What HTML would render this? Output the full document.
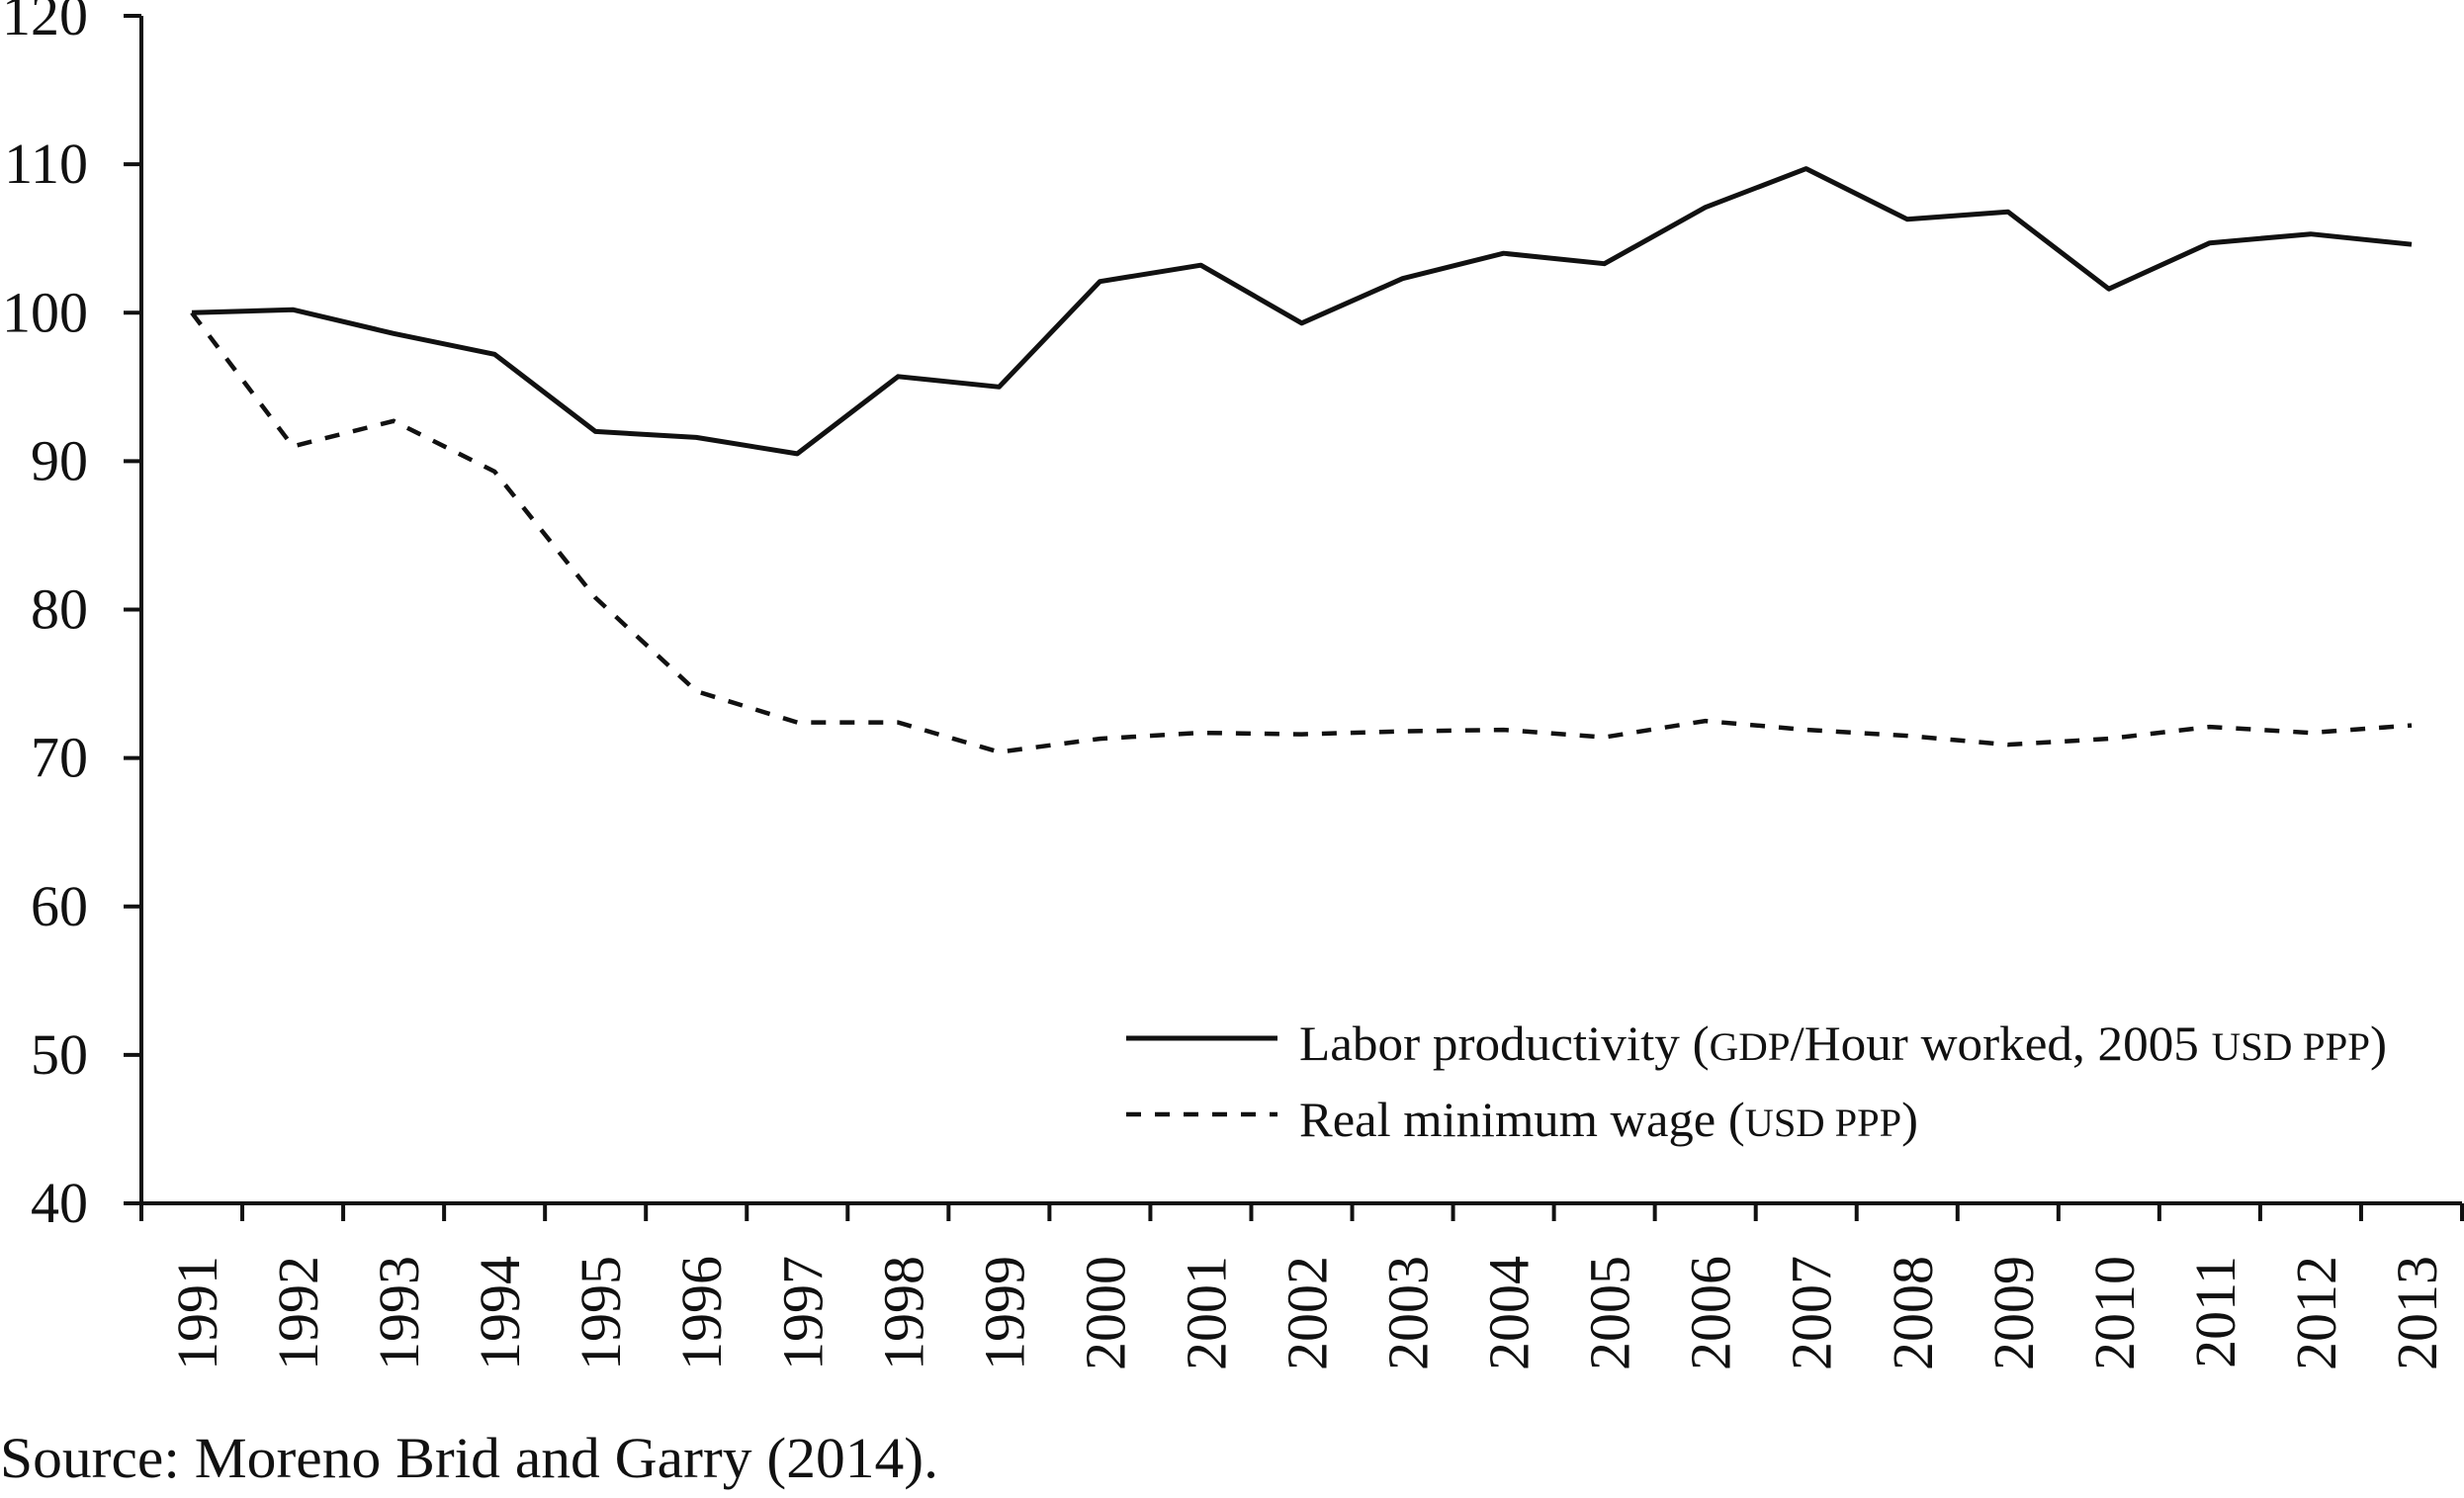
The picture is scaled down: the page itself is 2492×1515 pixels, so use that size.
<!DOCTYPE html>
<html><head><meta charset="utf-8"><style>
html,body{margin:0;padding:0;background:#fff;}
svg{display:block;font-family:"Liberation Serif",serif;}
</style></head><body>
<svg id="chart" width="2492" height="1515" viewBox="0 0 2492 1515" xmlns="http://www.w3.org/2000/svg">
<g id="axes"></g>
<g id="series"></g>
<g id="legend">
  <line x1="1139" y1="1050" x2="1292" y2="1050" stroke="#111" stroke-width="5"/>
  <text x="1314" y="1072" font-size="50" fill="#111" textLength="1100" lengthAdjust="spacingAndGlyphs">Labor productivity (<tspan font-size="40">GDP</tspan>/Hour worked, 2005 <tspan font-size="40">USD PPP</tspan>)</text>
  <line x1="1139" y1="1127" x2="1292" y2="1127" stroke="#111" stroke-width="4.5" stroke-dasharray="15,14"/>
  <text x="1314" y="1149" font-size="50" fill="#111" textLength="626" lengthAdjust="spacingAndGlyphs">Real minimum wage (<tspan font-size="40">USD PPP</tspan>)</text>
</g>
<text x="0" y="1494" font-size="58" fill="#111" textLength="949" lengthAdjust="spacingAndGlyphs">Source: Moreno Brid and Garry (2014).</text>
</svg>
<script>
const years = ["1991","1992","1993","1994","1995","1996","1997","1998","1999","2000","2001","2002","2003","2004","2005","2006","2007","2008","2009","2010","2011","2012","2013"];
const laborProductivity = [100,100.2,98.6,97.2,92,91.6,90.5,95.7,95,102.1,103.2,99.3,102.3,104,103.3,107.1,109.7,106.3,106.8,101.6,104.7,105.3,104.6];
const realMinimumWage = [100,91,92.7,89.3,80.8,74.5,72.4,72.4,70.4,71.3,71.7,71.6,71.8,71.9,71.4,72.5,71.9,71.5,70.9,71.3,72.1,71.7,72.2];
const yTicks = [40,50,60,70,80,90,100,110,120];

const NS="http://www.w3.org/2000/svg";
const x0=143, x1=2490, yTop=16, yBot=1217, vMin=40, vMax=120;
const step=(x1-x0)/years.length;
function xPos(i){return x0+step*(i+0.5);}
function yPos(v){return yBot-(v-vMin)/(vMax-vMin)*(yBot-yTop);}
function mk(tag,attrs,parent){const e=document.createElementNS(NS,tag);for(const k in attrs)e.setAttribute(k,attrs[k]);parent.appendChild(e);return e;}
const axes=document.getElementById('axes');
const series=document.getElementById('series');

let e=mk('line',{x1:x0,y1:yTop,x2:x0,y2:yBot,stroke:'#111','stroke-width':4},axes);


e=mk('line',{x1:x0-18,y1:yBot,x2:x1,y2:yBot,stroke:'#111','stroke-width':4},axes);



yTicks.forEach(v=>{
  const y=yPos(v);
  let t=mk('line',{x1:x0-18,y1:y,x2:x0,y2:y,stroke:'#111','stroke-width':4},axes);
  
  
  let l=mk('text',{x:89,y:y+19,'text-anchor':'end','font-size':58,fill:'#111'},axes);
  l.textContent=v;
  
  
});
for(let i=0;i<=years.length;i++){
  const x=x0+step*i;
  let t=mk('line',{x1:x,y1:yBot,x2:x,y2:yBot+18,stroke:'#111','stroke-width':4},axes);
  
  
}
years.forEach((yr,i)=>{
  const x=xPos(i)+25, y=1270;
  let l=mk('text',{x:x,y:y,'text-anchor':'end','font-size':58,fill:'#111',transform:`rotate(-90 ${x} ${y})`},axes);
  l.textContent=yr;
  
  
});
function pts(arr){return arr.map((v,i)=>xPos(i).toFixed(1)+','+yPos(v).toFixed(1)).join(' ');}
let p=mk('polyline',{points:pts(laborProductivity),fill:'none',stroke:'#111','stroke-width':5,'stroke-linejoin':'round'},series);


p=mk('polyline',{points:pts(realMinimumWage),fill:'none',stroke:'#111','stroke-width':4.5,'stroke-dasharray':'15,14'},series);


</script>
</body></html>
